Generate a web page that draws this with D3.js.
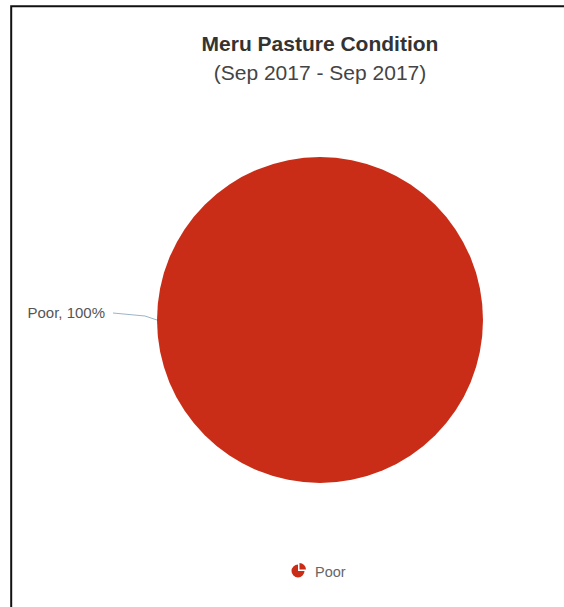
<!DOCTYPE html>
<html><head><meta charset="utf-8">
<script src="https://cdn.jsdelivr.net/npm/d3@7/dist/d3.min.js"></script>
<style>html,body{margin:0;padding:0;background:#fff;}svg{display:block;}</style>
</head><body>
<svg id="c" width="564" height="607"></svg>
<script>
const categories = ["Poor"];
const values = [100];
const colors = ["#c92d17"];
const title = "Meru Pasture Condition";
const subtitle = "(Sep 2017 - Sep 2017)";

const svg = d3.select("#c");
const W = 564, H = 607;
svg.append("rect").attr("width", W).attr("height", H).attr("fill", "#fff");
// border (left and top)
svg.append("path").attr("d", "M11.2,607 L11.2,6.2 L564,6.2").attr("fill", "none")
  .attr("stroke", "#111").attr("stroke-width", 2);

svg.append("text").attr("x", 320).attr("y", 51).attr("text-anchor", "middle")
  .attr("font-family", "Liberation Sans, Arial, sans-serif").attr("font-size", 21)
  .attr("font-weight", "bold").attr("fill", "#333").text(title);
svg.append("text").attr("x", 320).attr("y", 80).attr("text-anchor", "middle")
  .attr("font-family", "Liberation Sans, Arial, sans-serif").attr("font-size", 21)
  .attr("fill", "#444").text(subtitle);

const cx = 320, cy = 320, r = 163;
const pie = d3.pie().sort(null).value(d => d.v);
const data = categories.map((c, i) => ({c, v: values[i], color: colors[i]}));
const arcs = pie(data);
const arc = d3.arc().innerRadius(0).outerRadius(r);
const g = svg.append("g").attr("transform", `translate(${cx},${cy})`);
g.selectAll("path.s").data(arcs).join("path").attr("class", "s")
  .attr("d", arc).attr("fill", d => d.data.color);

// data label
const total = d3.sum(values);
arcs.forEach(a => {
  const px = cx - r, py = cy;
  svg.append("path").attr("d", `M${px},${py} L${cx - r - 12},${py - 4} L113,313`)
    .attr("fill", "none").attr("stroke", "#9cb4c8").attr("stroke-width", 1);
  svg.append("text").attr("x", 105).attr("y", 318).attr("text-anchor", "end")
    .attr("font-family", "Liberation Sans, Arial, sans-serif").attr("font-size", 15)
    .attr("fill", "#555").text(`${a.data.c}, ${Math.round(a.data.v / total * 100)}%`);
});

// legend
const lg = svg.append("g").attr("transform", "translate(298,571)");
const iconArc = d3.arc().innerRadius(0).outerRadius(6.5);
lg.append("path").attr("d", iconArc({startAngle: Math.PI / 2, endAngle: 2 * Math.PI})).attr("fill", colors[0]);
lg.append("path").attr("transform", "translate(1.5,-1.5)")
  .attr("d", iconArc({startAngle: 0, endAngle: Math.PI / 2})).attr("fill", colors[0]);
lg.append("text").attr("x", 17).attr("y", 5.5).attr("font-family", "Liberation Sans, Arial, sans-serif")
  .attr("font-size", 14.5).attr("fill", "#666").text(categories[0]);
</script>
</body></html>
